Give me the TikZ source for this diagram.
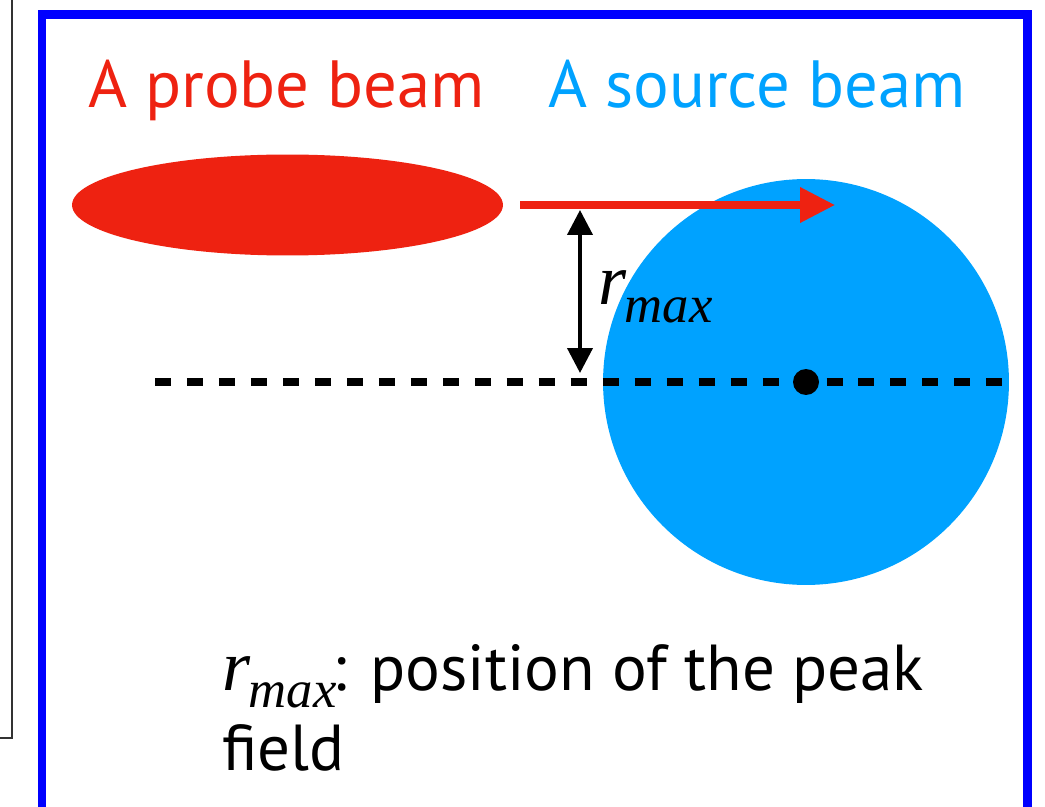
\documentclass[tikz,border=0pt]{standalone}
\usepackage{fontspec}
\setmainfont{PT Sans}
\newfontfamily\timesfont{Liberation Serif}
\usetikzlibrary{arrows.meta,shapes.geometric}
\definecolor{probered}{RGB}{238,34,17}
\definecolor{sourceblue}{RGB}{0,162,255}
\definecolor{framblue}{RGB}{0,0,255}
\newcommand{\rmaxlab}{{\timesfont\itshape\fontsize{41}{41}\selectfont r\kern-1pt\raisebox{-10pt}{\fontsize{30}{30}\selectfont max}}}

\begin{document}
\begin{tikzpicture}[x=0.02cm, y=-0.02cm,
  title/.style={font=\fontsize{38}{45}\selectfont, anchor=base west, inner sep=0pt},
  beamarrow/.style={draw=probered, line width=4pt,
    -{Triangle[length=0.7cm, width=0.68cm]}},
  rarrow/.style={line width=2.3pt,
    {Triangle[length=0.5cm, width=0.5cm]}-{Triangle[length=0.5cm, width=0.5cm]}},
  axisline/.style={line width=4pt, dash pattern=on 9.1pt off 9.1pt}]
\useasboundingbox (0,0) rectangle (1045,807);
% ---------------- frames ----------------
\draw[line width=0.8pt, black!80] (12,0) -- (12,738) -- (0,738);
\draw[framblue, line width=4.6pt] (42,807) -- (42,14.5) -- (1027.5,14.5) -- (1027.5,807);
% ---------------- titles ----------------
\node[title, text=probered] (probetxt) at (88,108) {A probe beam};
\node[title, text=sourceblue] (sourcetxt) at (548,108) {A source beam};
% ---------------- beams ----------------
\node[ellipse, fill=probered, inner sep=0pt,
  minimum width=8.62cm, minimum height=2.02cm] (probe) at (287.5,205) {};
\node[circle, fill=sourceblue, minimum size=8.12cm, inner sep=0pt] (source) at (806,382) {};
\draw[axisline] (155,382) -- (1005,382);
\node[circle, fill=black, minimum size=0.52cm, inner sep=0pt] (peak) at (source.center) {};
% ---------------- direction and offset ----------------
\coordinate (start) at (520,205);
\coordinate (tip) at (835,205);
\draw[beamarrow] (start) -- (tip);
\coordinate (rtop) at (580,210);
\coordinate (rbot) at (580,373);
\draw[rarrow] (rtop) -- (rbot);
\node[anchor=base west, inner sep=0pt] (rlab) at (598,305) {\rmaxlab};
% ---------------- caption ----------------
\node[anchor=base west, inner sep=0pt, font=\fontsize{37}{45}\selectfont]
  (caption) at (222,690) {\rmaxlab\kern-2pt: position of the peak};
\node[title, font=\fontsize{37}{45}\selectfont] (caption2) at (222,770) {field};
\end{tikzpicture}
\end{document}
